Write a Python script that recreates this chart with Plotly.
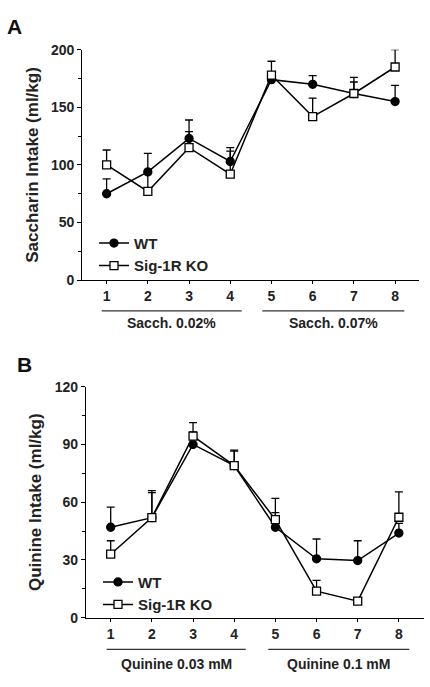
import plotly.graph_objects as go

W, H = 430, 687

sessions = [1, 2, 3, 4, 5, 6, 7, 8]

# Panel A: saccharin intake (ml/kg)
sacc_wt = [75, 94, 123, 103, 174, 170, 162, 155]
sacc_wt_err = [13, 16, 16, 12, 6, 7.5, 14, 14]
sacc_ko = [100, 77, 115, 92, 178, 142, 162, 185]
sacc_ko_err = [13, 17, 14, 20, 12, 16, 10, 15]

# Panel B: quinine intake (ml/kg)
quin_wt = [47, 52, 90, 79, 47, 30.6, 29.7, 44]
quin_wt_err = [10.4, 14, 6.5, 8, 7.6, 10.3, 10.3, 5]
quin_ko = [33, 52, 94.3, 79, 51, 13.8, 8.6, 52.2]
quin_ko_err = [7, 13, 7, 7.5, 11, 5.6, 1, 13.2]

groups_a = ["Sacch. 0.02%", "Sacch. 0.07%"]
groups_b = ["Quinine 0.03 mM", "Quinine 0.1 mM"]

FONT = "Liberation Sans, Arial, sans-serif"

def px_x(p):
    return p / W

def px_y(p):
    return 1 - p / H

fig = go.Figure()

def add_series(y, err, xaxis, yaxis, name, filled, legend):
    fig.add_trace(go.Scatter(
        x=sessions, y=y, mode="lines+markers", name="<b>%s</b>" % name,
        xaxis=xaxis, yaxis=yaxis, legend=legend,
        line=dict(color="black", width=1.5),
        marker=dict(symbol="circle" if filled else "square",
                    size=8,
                    color="black" if filled else "white",
                    line=dict(color="black", width=1.3)),
        error_y=dict(type="data", symmetric=False, array=err,
                     arrayminus=[0] * len(err), color="black",
                     thickness=1.3, width=4),
    ))

add_series(sacc_wt, sacc_wt_err, "x", "y", "WT", True, "legend")
add_series(sacc_ko, sacc_ko_err, "x", "y", "Sig-1R KO", False, "legend")
add_series(quin_wt, quin_wt_err, "x2", "y2", "WT", True, "legend2")
add_series(quin_ko, quin_ko_err, "x2", "y2", "Sig-1R KO", False, "legend2")

axis_common = dict(showline=True, linecolor="black", linewidth=1.3,
                   ticks="outside", tickcolor="black", showgrid=False,
                   zeroline=False,
                   tickfont=dict(family=FONT, size=14, color="#222", weight="bold"))

fig.update_layout(
    width=W, height=H, margin=dict(l=0, r=0, t=0, b=0),
    paper_bgcolor="white", plot_bgcolor="white",
    font=dict(family=FONT, color="#222"),
    xaxis=dict(domain=[px_x(82.3), px_x(419)], range=[0.41, 8.58],
               tickvals=sessions, ticklen=3, anchor="y", **axis_common),
    yaxis=dict(domain=[px_y(278.7), px_y(42.7)], range=[0, 200],
               tickvals=[0, 50, 100, 150, 200], ticklen=4, anchor="x",
               minor=dict(dtick=25, ticklen=3, ticks="outside", tickcolor="black"),
               title=dict(text="<b>Saccharin Intake (ml/kg)</b>",
                          font=dict(family=FONT, size=17, color="#222"), standoff=8),
               **axis_common),
    xaxis2=dict(domain=[px_x(86), px_x(424)], range=[0.40, 8.61],
                tickvals=sessions, ticklen=3, anchor="y2", **axis_common),
    yaxis2=dict(domain=[px_y(624.3), px_y(387.7)], range=[0, 120],
                tickvals=[0, 30, 60, 90, 120], ticklen=4, anchor="x2",
                minor=dict(dtick=15, ticklen=3, ticks="outside", tickcolor="black"),
                title=dict(text="<b>Quinine Intake (ml/kg)</b>",
                           font=dict(family=FONT, size=17, color="#222"), standoff=8),
                **axis_common),
    legend=dict(x=px_x(94), y=px_y(224), xanchor="left", yanchor="top",
                bgcolor="rgba(0,0,0,0)", tracegroupgap=0,
                font=dict(family=FONT, size=15, color="#222")),
    legend2=dict(x=px_x(98), y=px_y(571), xanchor="left", yanchor="top",
                 bgcolor="rgba(0,0,0,0)", tracegroupgap=0,
                 font=dict(family=FONT, size=15, color="#222")),
    showlegend=True,
)

# group bars and labels
shapes = []
annotations = []
def group(x0, x1, yline, ytext, label):
    shapes.append(dict(type="line", xref="paper", yref="paper",
                       x0=px_x(x0), x1=px_x(x1), y0=px_y(yline), y1=px_y(yline),
                       line=dict(color="#333", width=1.3)))
    annotations.append(dict(xref="paper", yref="paper", x=px_x((x0 + x1) / 2),
                            y=px_y(ytext), text="<b>%s</b>" % label, showarrow=False,
                            xanchor="center", yanchor="middle",
                            font=dict(family=FONT, size=14, color="#222")))

group(101.7, 241.7, 310, 323, groups_a[0])
group(262.3, 404.3, 310, 323, groups_a[1])
group(106.7, 245.7, 656.7, 672, groups_b[0])
group(268.3, 409.3, 656.7, 672, groups_b[1])

annotations.append(dict(xref="paper", yref="paper", x=px_x(14), y=px_y(19),
                        text="<b>A</b>", showarrow=False, xanchor="center",
                        yanchor="middle", font=dict(family=FONT, size=21, color="#111")))
annotations.append(dict(xref="paper", yref="paper", x=px_x(24), y=px_y(365),
                        text="<b>B</b>", showarrow=False, xanchor="center",
                        yanchor="middle", font=dict(family=FONT, size=21, color="#111")))

fig.update_layout(shapes=shapes, annotations=annotations)

fig.write_html("out.html", config={"displayModeBar": False},
               post_script="document.body.style.margin='0px';")
